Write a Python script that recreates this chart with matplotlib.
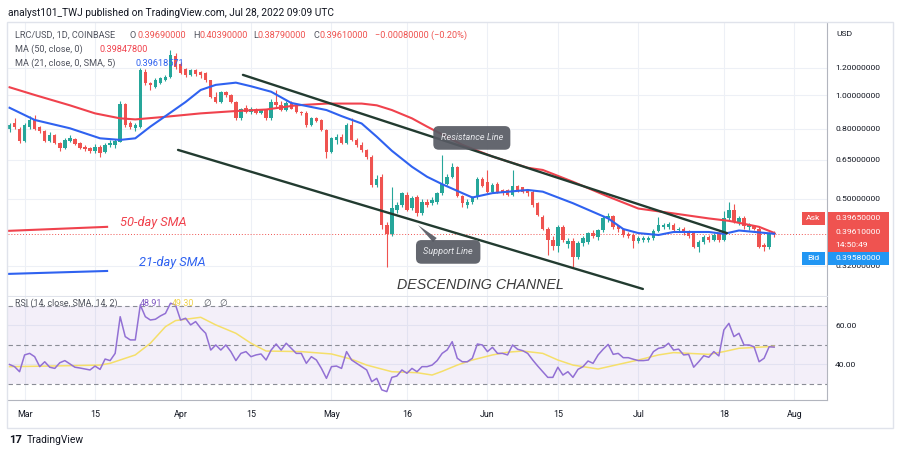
import matplotlib
matplotlib.use("Agg")
import matplotlib.pyplot as plt
import pandas as pd
from matplotlib.patches import Rectangle
from matplotlib.ticker import FixedLocator, NullLocator, FuncFormatter

plt.rcParams["font.family"] = ["Roboto", "DejaVu Sans"]

# ---- data (LRC/USD daily, first candle 2022-02-26) ----
START = pd.Timestamp("2022-02-26")

opens = [0.80, 0.83, 0.80, 0.735, 0.81, 0.848, 0.81, 0.79, 0.738, 0.765,
         0.725, 0.705, 0.735, 0.745, 0.725, 0.71, 0.703, 0.688, 0.708, 0.685,
         0.715, 0.715, 0.733, 0.942, 0.83, 0.805, 0.81, 1.171, 1.088, 1.06,
         1.084, 1.108, 1.133, 1.30, 1.23, 1.19, 1.146, 1.184, 1.17, 1.16,
         1.108, 0.99, 0.956, 1.02, 1.00, 0.956, 0.857, 0.92, 0.895, 0.91,
         0.886, 0.906, 0.857, 0.955, 0.935, 0.906, 0.95, 0.93, 0.895, 0.89,
         0.82, 0.857, 0.848, 0.793, 0.686, 0.742, 0.758, 0.725, 0.82, 0.742,
         0.718, 0.694, 0.664, 0.549, 0.58, 0.42, 0.395, 0.464, 0.48, 0.514,
         0.47, 0.508, 0.454, 0.491, 0.486, 0.491, 0.52, 0.553, 0.58, 0.62,
         0.51, 0.48, 0.49, 0.505, 0.573, 0.56, 0.525, 0.551, 0.531, 0.531,
         0.514, 0.545, 0.54, 0.53, 0.525, 0.486, 0.444, 0.41, 0.38, 0.365,
         0.415, 0.37, 0.378, 0.34, 0.372, 0.376, 0.397, 0.388, 0.406, 0.439,
         0.445, 0.418, 0.408, 0.395, 0.393, 0.377, 0.38, 0.38, 0.385, 0.404,
         0.415, 0.414, 0.42, 0.406, 0.41, 0.40, 0.397, 0.363, 0.375, 0.388,
         0.38, 0.395, 0.38, 0.44, 0.465, 0.43, 0.44, 0.415, 0.418, 0.41,
         0.368, 0.363, 0.3969]
highs = [0.83, 0.857, 0.81, 0.83, 0.87, 0.875, 0.815, 0.795, 0.78, 0.77,
         0.73, 0.75, 0.765, 0.75, 0.73, 0.715, 0.71, 0.72, 0.715, 0.725,
         0.74, 0.745, 0.96, 0.95, 0.84, 0.83, 1.20, 1.19, 1.095, 1.12,
         1.13, 1.145, 1.354, 1.33, 1.25, 1.20, 1.19, 1.19, 1.18, 1.17,
         1.11, 1.02, 1.03, 1.03, 1.01, 0.96, 0.92, 0.935, 0.925, 0.92,
         0.915, 0.915, 0.975, 1.036, 0.96, 0.96, 0.96, 0.935, 0.90, 0.90,
         0.865, 0.865, 0.855, 0.80, 0.755, 0.77, 0.77, 0.83, 0.857, 0.75,
         0.73, 0.70, 0.67, 0.585, 0.59, 0.43, 0.543, 0.49, 0.525, 0.525,
         0.51, 0.515, 0.50, 0.50, 0.505, 0.525, 0.671, 0.59, 0.635, 0.625,
         0.515, 0.50, 0.51, 0.58, 0.58, 0.607, 0.555, 0.56, 0.535, 0.535,
         0.607, 0.55, 0.543, 0.535, 0.53, 0.49, 0.45, 0.415, 0.39, 0.42,
         0.42, 0.385, 0.385, 0.378, 0.39, 0.40, 0.405, 0.41, 0.445, 0.455,
         0.45, 0.42, 0.412, 0.40, 0.398, 0.39, 0.39, 0.39, 0.41, 0.444,
         0.425, 0.428, 0.425, 0.415, 0.415, 0.405, 0.40, 0.38, 0.392, 0.392,
         0.397, 0.40, 0.46, 0.49, 0.485, 0.445, 0.445, 0.425, 0.42, 0.415,
         0.372, 0.40, 0.4039]
lows = [0.78, 0.80, 0.725, 0.73, 0.80, 0.795, 0.775, 0.73, 0.73, 0.72,
        0.69, 0.70, 0.73, 0.715, 0.70, 0.69, 0.68, 0.68, 0.662, 0.68,
        0.71, 0.705, 0.73, 0.81, 0.80, 0.79, 0.805, 1.07, 1.036, 1.05,
        1.075, 1.10, 1.12, 1.19, 1.15, 1.13, 1.14, 1.14, 1.12, 1.09,
        0.98, 0.95, 0.95, 0.99, 0.95, 0.85, 0.845, 0.89, 0.88, 0.88,
        0.88, 0.85, 0.85, 0.925, 0.90, 0.90, 0.91, 0.89, 0.875, 0.81,
        0.815, 0.835, 0.785, 0.656, 0.68, 0.72, 0.72, 0.72, 0.735, 0.71,
        0.685, 0.655, 0.54, 0.54, 0.41, 0.317, 0.39, 0.455, 0.475, 0.46,
        0.465, 0.445, 0.45, 0.475, 0.48, 0.485, 0.515, 0.548, 0.575, 0.505,
        0.475, 0.472, 0.485, 0.50, 0.54, 0.52, 0.52, 0.52, 0.515, 0.51,
        0.51, 0.525, 0.52, 0.51, 0.475, 0.445, 0.405, 0.343, 0.355, 0.35,
        0.375, 0.36, 0.315, 0.335, 0.365, 0.37, 0.385, 0.38, 0.40, 0.43,
        0.41, 0.40, 0.388, 0.385, 0.36, 0.372, 0.375, 0.375, 0.38, 0.40,
        0.41, 0.41, 0.40, 0.40, 0.392, 0.385, 0.36, 0.351, 0.37, 0.375,
        0.378, 0.375, 0.378, 0.435, 0.425, 0.42, 0.41, 0.405, 0.405, 0.36,
        0.352, 0.358, 0.3879]
closes = [0.82, 0.808, 0.735, 0.82, 0.848, 0.80, 0.785, 0.738, 0.767, 0.725,
          0.703, 0.742, 0.75, 0.72, 0.705, 0.698, 0.688, 0.71, 0.68, 0.718,
          0.728, 0.735, 0.946, 0.82, 0.808, 0.82, 1.184, 1.084, 1.071, 1.108,
          1.12, 1.133, 1.309, 1.21, 1.16, 1.146, 1.184, 1.15, 1.146, 1.108,
          0.99, 0.956, 1.02, 1.00, 0.956, 0.857, 0.915, 0.895, 0.915, 0.886,
          0.909, 0.857, 0.955, 0.935, 0.906, 0.95, 0.915, 0.895, 0.886, 0.82,
          0.857, 0.84, 0.793, 0.686, 0.75, 0.758, 0.725, 0.82, 0.742, 0.718,
          0.694, 0.664, 0.549, 0.573, 0.42, 0.395, 0.47, 0.48, 0.52, 0.464,
          0.503, 0.454, 0.491, 0.48, 0.497, 0.52, 0.553, 0.58, 0.62, 0.51,
          0.486, 0.49, 0.505, 0.573, 0.545, 0.525, 0.549, 0.525, 0.525, 0.514,
          0.545, 0.531, 0.525, 0.52, 0.48, 0.449, 0.41, 0.38, 0.365, 0.415,
          0.38, 0.378, 0.339, 0.372, 0.385, 0.397, 0.39, 0.406, 0.439, 0.445,
          0.415, 0.408, 0.392, 0.39, 0.377, 0.384, 0.385, 0.386, 0.404, 0.42,
          0.42, 0.422, 0.406, 0.41, 0.397, 0.39, 0.363, 0.375, 0.388, 0.38,
          0.393, 0.38, 0.44, 0.465, 0.43, 0.44, 0.417, 0.42, 0.41, 0.363,
          0.362, 0.397, 0.3961]

# moving averages (day offset, value)
ma50_days = [0, 5, 12, 17, 22, 25, 31, 38, 45, 51, 57, 63, 70, 73, 76, 80, 83,
             90, 96, 103, 106, 112, 119, 125, 132, 139, 143, 149, 152]
ma50_vals = [1.055, 1.002, 0.935, 0.886, 0.857, 0.851, 0.866, 0.886, 0.90, 0.909,
             0.935, 0.946, 0.946, 0.935, 0.906, 0.857, 0.811, 0.718, 0.664, 0.616,
             0.607, 0.561, 0.508, 0.469, 0.454, 0.439, 0.432, 0.415, 0.3985]
ma21_days = [0, 5, 12, 18, 22, 25, 28, 31, 35, 38, 41, 45, 48, 52, 56, 63, 66,
             70, 73, 76, 80, 83, 86, 90, 92, 96, 103, 106, 112, 119, 122, 125,
             129, 132, 139, 142, 145, 152]
ma21_vals = [0.92, 0.848, 0.802, 0.75, 0.742, 0.75, 0.811, 0.87, 0.956, 1.036,
             1.072, 1.088, 1.062, 1.024, 0.95, 0.906, 0.87, 0.828, 0.758, 0.69,
             0.62, 0.58, 0.552, 0.52, 0.505, 0.52, 0.531, 0.525, 0.486, 0.439,
             0.409, 0.398, 0.393, 0.401, 0.401, 0.396, 0.405, 0.3962]

rsi = [40, 38.9, 36.3, 44.9, 45.7, 44, 38.9, 41.4, 38.6, 38,
       40.9, 42, 40.3, 38.6, 38.2, 37.7, 37.2, 39.2, 37.5, 42.8,
       42, 45.7, 64.5, 54.3, 52.6, 52.6, 70.5, 64.5, 62.8, 63.2,
       64.9, 66.2, 71.4, 70.5, 62.8, 63.7, 60.3, 62, 58.6, 56,
       47.4, 50, 47.4, 50, 46.6, 42, 45.7, 46.6, 44, 44.9,
       45.4, 42.3, 47.4, 50.5, 47.4, 50.9, 48.3, 45.7, 45.7, 40.6,
       44, 42.3, 38, 32.9, 38.9, 39.2, 38, 46.6, 42.3, 40.6,
       38.9, 37.2, 31.2, 32.9, 27, 26.1, 33.4, 34.1, 37.2, 35.5,
       38, 36.3, 38.9, 38.9, 39.7, 42, 45.7, 47.5, 51.7, 43.2,
       41.4, 41.4, 43.2, 50.5, 50, 46.6, 48.8, 45.7, 45.7, 44.9,
       50, 47.8, 47.1, 45.7, 42.3, 39.2, 36.3, 33.4, 33.4, 38.6,
       34.6, 36.3, 33.4, 37.5, 38.9, 41.8, 40.6, 44.9, 47.8, 50.3,
       45.2, 45.7, 43.5, 43.5, 42.7, 42, 42, 42.3, 46.6, 48.3,
       48.8, 50.9, 47.4, 47.9, 44.9, 45.2, 38.6, 41.4, 44.5, 43.7,
       46.6, 44.4, 57.7, 61.1, 54.3, 56, 50, 50, 49.1, 41.4,
       43.2, 49.1, 48.91]
rsi_ma_days = [0, 8, 18, 20, 25, 28, 31, 33, 38, 41, 45, 48, 51, 58, 64, 68, 71,
               76, 81, 84, 86, 89, 92, 96, 99, 102, 106, 109, 112, 117, 122,
               125, 129, 132, 139, 142, 145, 152]
rsi_ma_vals = [38.9, 39.2, 39.7, 40.6, 44.9, 50.9, 59.4, 62.5, 64.2, 60.3, 56,
               50.9, 46.9, 46.6, 45.4, 42.7, 39.7, 36.3, 35.8, 34.6, 36.5, 39.7,
               42.3, 44.9, 46.3, 46.9, 45.7, 42.3, 39.7, 37.7, 40.6, 42.3, 44.9,
               46.1, 45.2, 46.6, 48.3, 49.3]

tick_dates = ["2022-03-01", "2022-03-15", "2022-04-01", "2022-04-15", "2022-05-01",
              "2022-05-16", "2022-06-01", "2022-06-15", "2022-07-01", "2022-07-18",
              "2022-08-01"]
tick_labels = ["Mar", "15", "Apr", "15", "May", "16", "Jun", "15", "Jul", "18", "Aug"]
price_ticks = [1.2, 1.0, 0.8, 0.65, 0.5, 0.32]
rsi_ticks = [60, 40]

# hand drawn channel (day offset, price)
res_days, res_prices = [46.4, 142.6], [1.146, 0.398]
sup_days, sup_prices = [33.5, 125.9], [0.694, 0.274]
note50_days, note50_prices = [-0.3, 19.4], [0.404, 0.415]
note21_days, note21_prices = [-0.3, 19.4], [0.303, 0.309]

last_price, ask_price, bid_price = 0.3961, 0.3965, 0.3958

# ---- style ----
GREEN, RED = "#26a69a", "#ef5350"
MA_RED, MA_BLUE = "#f0424d", "#2f62f0"
GRID = "#edf0f6"
TXT = "#131722"
LEG = "#50535e"
CHAN = "#223b30"

W, H = 900, 454
def fx(px):
    return px / W
def fy(py):
    return 1 - py / H

fig = plt.figure(figsize=(9, 4.54), dpi=100)
fig.add_artist(Rectangle((fx(7), fy(428)), fx(893) - fx(7), fy(22) - fy(428),
                         transform=fig.transFigure, fill=False, ec="#e0e3eb", lw=1))

ax = fig.add_axes([fx(8), fy(296), fx(827) - fx(8), fy(23) - fy(296)])
rx = fig.add_axes([fx(8), fy(400), fx(827) - fx(8), fy(297) - fy(400)], sharex=ax)

days = list(range(len(closes)))
ticks = [(pd.Timestamp(d) - START).days for d in tick_dates]

# candles
cols = [GREEN if c >= o else RED for o, c in zip(opens, closes)]
ax.vlines(days, lows, highs, colors=cols, lw=0.8, zorder=3)
ax.bar(days, [max(abs(c - o), 0.002) for o, c in zip(opens, closes)],
       bottom=[min(o, c) for o, c in zip(opens, closes)],
       width=0.68, color=cols, lw=0, zorder=4)

ax.plot(ma50_days, ma50_vals, color=MA_RED, lw=1.5, zorder=5)
ax.plot(ma21_days, ma21_vals, color=MA_BLUE, lw=1.5, zorder=5)
ax.axhline(last_price, color=RED, lw=0.7, ls=(0, (1, 2)), zorder=2)

ax.plot(res_days, res_prices, color=CHAN, lw=1.7, zorder=6, solid_capstyle="round")
ax.plot(sup_days, sup_prices, color=CHAN, lw=1.7, zorder=6, solid_capstyle="round")
ax.plot(note50_days, note50_prices, color=MA_RED, lw=1.5, zorder=6)
ax.plot(note21_days, note21_prices, color=MA_BLUE, lw=1.5, zorder=6)

ax.text(28.5, 0.426, "50-day SMA", color=MA_RED, fontsize=9.3, style="italic",
        ha="center", va="center", zorder=7)
ax.text(32.3, 0.328, "21-day SMA", color=MA_BLUE, fontsize=9.3, style="italic",
        ha="center", va="center", zorder=7)
box = dict(boxstyle="round,pad=0.8,rounding_size=0.6", fc="#575a63", ec="none", alpha=0.92)
ax.text(91.9, 0.752, "Resistance Line", color="#e6e7eb", fontsize=6.6, style="italic",
        ha="center", va="center", bbox=box, zorder=8)
ax.annotate("Support Line", xy=(81.2, 0.42), xytext=(87.2, 0.351),
            color="#e6e7eb", fontsize=6.6, style="italic", ha="center", va="center",
            bbox=box, zorder=8,
            arrowprops=dict(arrowstyle="wedge,tail_width=0.6", fc="#575a63", ec="none",
                            alpha=0.92, shrinkA=0, shrinkB=0))
ax.text(93.5, 0.2815, "DESCENDING CHANNEL", color="#3c3c3c", fontsize=10.3,
        style="italic", family=["Liberation Sans", "DejaVu Sans"],
        ha="center", va="center", zorder=7)

ax.set_yscale("log")
ax.set_ylim(0.2614, 1.621)
ax.set_xlim(-0.3, 162.5)
ax.yaxis.set_major_locator(FixedLocator(price_ticks))
ax.yaxis.set_minor_locator(NullLocator())
ax.yaxis.set_major_formatter(FuncFormatter(lambda v, p: f"{v:.8f}"))

# rsi pane
rx.axhspan(30, 70, color="#7e57c2", alpha=0.09, lw=0, zorder=1)
for lvl in (70, 50, 30):
    rx.axhline(lvl, color="#8a8d96", lw=0.8, ls=(0, (4, 3)), zorder=2)
rx.plot(rsi_ma_days, rsi_ma_vals, color="#f5df6a", lw=1.1, zorder=3)
rx.plot(days, rsi, color="#9270d4", lw=1.1, zorder=4)
rx.set_ylim(21.8, 74.6)
rx.set_yticks(rsi_ticks)
rx.yaxis.set_major_formatter(FuncFormatter(lambda v, p: f"{v:.2f}"))
rx.set_xticks(ticks)
rx.set_xticklabels(tick_labels)

for a in (ax, rx):
    a.yaxis.tick_right()
    a.tick_params(axis="y", length=0, pad=5.8, labelsize=6.1, labelcolor=TXT)
    a.tick_params(axis="x", length=0, pad=7, labelsize=6.4, labelcolor=TXT)
    a.grid(True, color=GRID, lw=0.8)
    a.set_axisbelow(True)
    a.spines["top"].set_visible(False)
    a.spines["left"].set_visible(False)
    a.spines["right"].set_color("#b2b5be")
ax.tick_params(axis="x", labelbottom=False)
ax.spines["bottom"].set_color("#e0e3eb")
rx.spines["bottom"].set_color("#b2b5be")

# header and legends
fig.text(fx(8), fy(13), "analyst101_TWJ published on TradingView.com, Jul 28, 2022 09:09 UTC",
         fontsize=7.3, color=TXT, va="center")
fig.text(fx(836), fy(34), "USD", fontsize=6.1, color=TXT, va="center")

l1 = [(15, "LRC/USD, 1D, COINBASE", LEG), (129, "O", LEG), (137, "0.39690000", RED),
      (193, "H", LEG), (200, "0.40390000", RED), (253, "L", LEG), (258, "0.38790000", RED),
      (313, "C", LEG), (320, "0.39610000", RED), (375, "\u22120.00080000 (\u22120.20%)", RED)]
for x, s, c in l1:
    fig.text(fx(x), fy(35), s, fontsize=6.6, color=c, va="center")
fig.text(fx(15), fy(49), "MA (50, close, 0)", fontsize=6.6, color=LEG, va="center")
fig.text(fx(99), fy(49), "0.39847800", fontsize=6.6, color=MA_RED, va="center")
fig.text(fx(15), fy(63), "MA (21, close, 0, SMA, 5)", fontsize=6.6, color=LEG, va="center")
fig.text(fx(135), fy(63), "0.39618571", fontsize=6.6, color=MA_BLUE, va="center")

fig.text(fx(15), fy(303), "RSI (14, close, SMA, 14, 2)", fontsize=6.4, color=LEG, va="center")
fig.text(fx(140), fy(303), "48.91", fontsize=6.4, color="#7e57c2", va="center")
fig.text(fx(172), fy(303), "49.30", fontsize=6.4, color="#f0d34e", va="center")
fig.text(fx(203), fy(303), "\u2205", fontsize=6.4, color=LEG, va="center")
fig.text(fx(219), fy(303), "\u2205", fontsize=6.4, color=LEG, va="center")

# price labels on the scale
def box_px(x0, y0, x1, y1, color):
    fig.add_artist(Rectangle((fx(x0), fy(y1)), fx(x1) - fx(x0), fy(y0) - fy(y1),
                             transform=fig.transFigure, fc=color, ec="none", zorder=5))

box_px(802, 212, 825, 225, RED)
fig.text(fx(813.5), fy(218.5), "Ask", fontsize=6.1, color="white", ha="center", va="center", zorder=6)
box_px(828, 212, 889, 225, RED)
fig.text(fx(835), fy(218.5), f"{ask_price:.8f}", fontsize=6.1, color="white", va="center", zorder=6)
box_px(828, 225, 889, 252, RED)
fig.text(fx(835), fy(232), f"{last_price:.8f}", fontsize=6.1, color="white", va="center", zorder=6)
fig.text(fx(835), fy(245), "14:50:49", fontsize=6.1, color="white", va="center", zorder=6)
box_px(802, 252, 825, 265, "#2196f3")
fig.text(fx(813.5), fy(258.5), "Bid", fontsize=6.1, color="white", ha="center", va="center", zorder=6)
box_px(828, 252, 889, 265, "#2196f3")
fig.text(fx(835), fy(258.5), f"{bid_price:.8f}", fontsize=6.1, color="white", va="center", zorder=6)

# footer logo
fig.text(fx(9), fy(440), "17", fontsize=8, weight="bold", color=TXT, va="center")
fig.text(fx(27), fy(440), "TradingView", fontsize=7.4, color=TXT, va="center")

fig.savefig("out.png", dpi=100)
